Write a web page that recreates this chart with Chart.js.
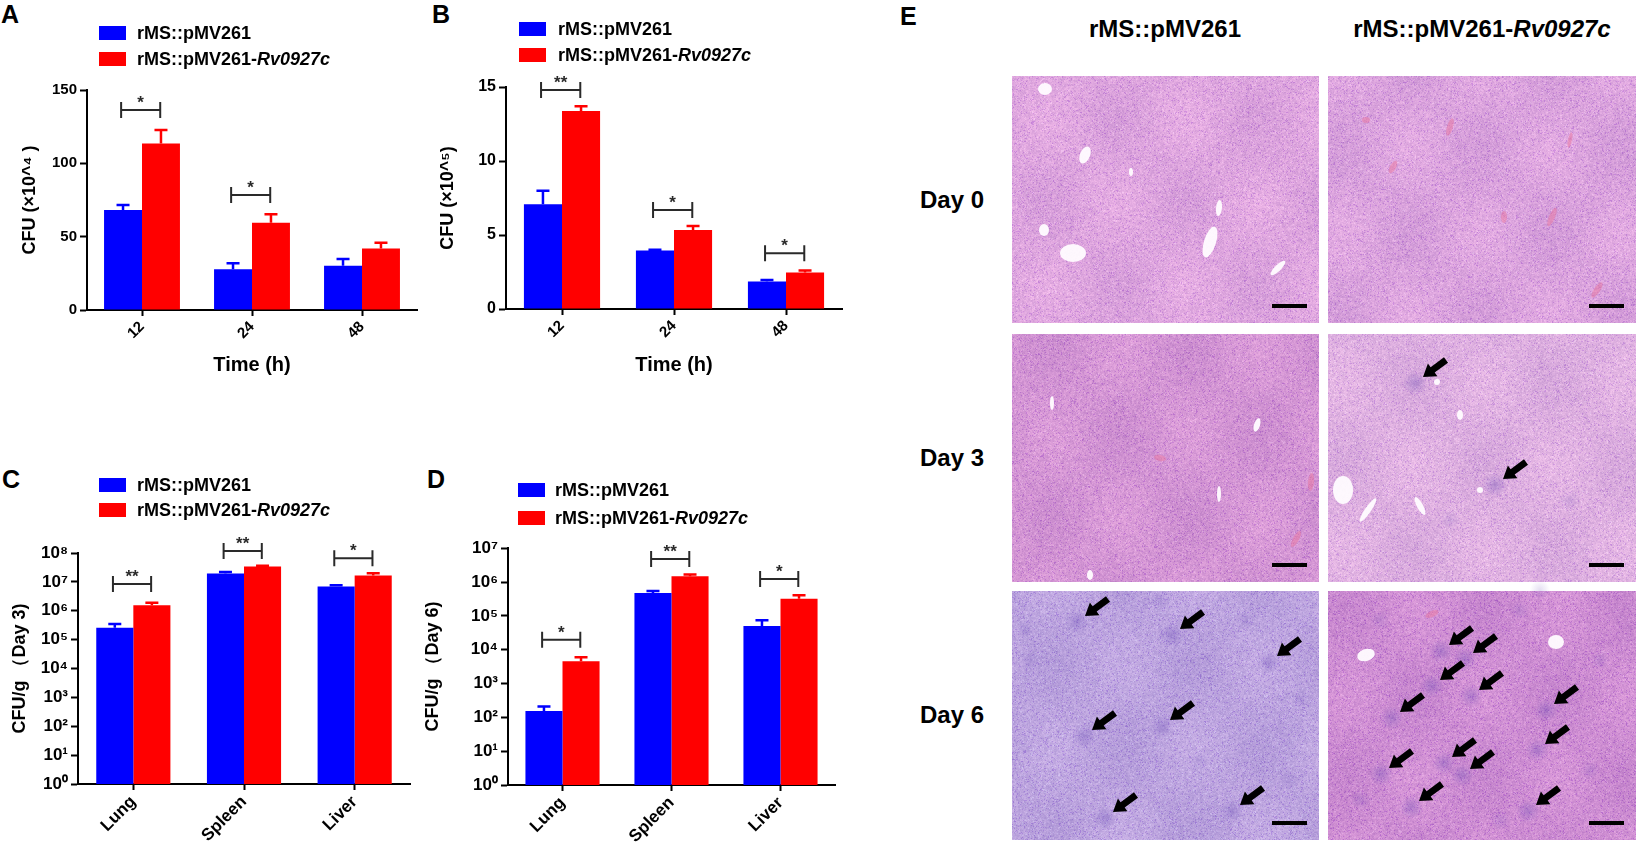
<!DOCTYPE html>
<html lang="en">
<head>
<meta charset="UTF-8">
<title>rMS::pMV261 vs rMS::pMV261-Rv0927c</title>
<script src="https://cdn.jsdelivr.net/npm/chart.js"></script>
<style>
  body { margin: 0; background: #fff; }
  #page { position: relative; width: 1636px; height: 845px; overflow: hidden; background: #fff;
          font-family: "Liberation Sans", Arial, sans-serif; font-weight: bold; color: #000; }
  #page canvas, .t, .box { position: absolute; }
  .t { line-height: 1; white-space: nowrap; }
  .letter { font-size: 25px; }
  .leg { font-size: 18px; }
  .head { font-size: 24px; text-align: center; width: 320px; }
  .day { font-size: 24px; }
  .box { width: 27px; height: 14px; }
</style>
</head>
<body>
<div id="page">
  <canvas id="chartA" width="430" height="330" style="left:0px;top:70px"></canvas>
  <canvas id="chartB" width="450" height="340" style="left:420px;top:60px"></canvas>
  <canvas id="chartC" width="430" height="325" style="left:0px;top:520px"></canvas>
  <canvas id="chartD" width="430" height="310" style="left:420px;top:535px"></canvas>
  <canvas id="histo" width="624" height="764" style="left:1012px;top:76px"></canvas>

  <div class="t letter" style="left:1px;top:2px">A</div>
  <div class="t letter" style="left:432px;top:2px">B</div>
  <div class="t letter" style="left:2px;top:467px">C</div>
  <div class="t letter" style="left:427px;top:467px">D</div>
  <div class="t letter" style="left:900px;top:4px">E</div>

  <div class="t head" style="left:1005px;top:17px">rMS::pMV261</div>
  <div class="t head" style="left:1322px;top:17px">rMS::pMV261-<i>Rv0927c</i></div>
  <div class="t day" style="left:920px;top:188px">Day 0</div>
  <div class="t day" style="left:920px;top:446px">Day 3</div>
  <div class="t day" style="left:920px;top:703px">Day 6</div>
</div>

<script>
// ---- data ----
const seriesNames = ['rMS::pMV261', 'rMS::pMV261-Rv0927c'];
const timeLabels = ['12', '24', '48'];
const organLabels = ['Lung', 'Spleen', 'Liver'];

// A: in vitro CFU (x10^4)
const aCtrl = [68.2, 27.7, 30.2];
const aCtrlSem = [3.4, 4.1, 4.6];
const aRv = [113.6, 59.5, 42.0];
const aRvSem = [9.1, 5.7, 3.9];
const aSig = ['*', '*', ''];
const aSigY = [136.4, 78.4, null];
const aTicks = [0, 50, 100, 150];

// B: CFU (x10^5)
const bCtrl = [7.07, 3.95, 1.86];
const bCtrlSem = [0.92, 0.06, 0.1];
const bRv = [13.38, 5.34, 2.47];
const bRvSem = [0.32, 0.27, 0.13];
const bSig = ['**', '*', '*'];
const bSigY = [14.8, 6.69, 3.77];
const bTicks = [0, 5, 10, 15];

// C: CFU/g day 3
const cCtrl = [2.6e5, 1.94e7, 6.9e6];
const cCtrlSem = [0.9e5, 0.26e7, 0.8e6];
const cRv = [1.56e6, 3.4e7, 1.65e7];
const cRvSem = [0.34e6, 0.2e7, 0.35e7];
const cSig = ['**', '**', '*'];
const cSigY = [8.5e6, 1.17e8, 6.6e7];
const cTicks = [1, 1e1, 1e2, 1e3, 1e4, 1e5, 1e6, 1e7, 1e8];

// D: CFU/g day 6
const dCtrl = [155, 4.7e5, 5.0e4];
const dCtrlSem = [53, 0.7e5, 2.4e4];
const dRv = [4570, 1.49e6, 3.2e5];
const dRvSem = [1430, 0.17e6, 0.9e5];
const dSig = ['*', '**', '*'];
const dSigY = [1.95e4, 4.8e6, 1.23e6];
const dTicks = [1, 1e1, 1e2, 1e3, 1e4, 1e5, 1e6, 1e7];

const BLUE = '#0000ff';
const RED = '#ff0000';
const FONT = '"Liberation Sans", Arial, sans-serif';

Chart.defaults.font.family = FONT;
Chart.defaults.font.weight = 'bold';
Chart.defaults.color = '#000';

const sup = ['\u2070', '\u00b9', '\u00b2', '\u00b3', '\u2074', '\u2075', '\u2076', '\u2077', '\u2078', '\u2079'];

// error bars (upper only) + significance brackets
const extras = {
  id: 'extras',
  afterDatasetsDraw(chart, args, opts) {
    const ctx = chart.ctx, xs = chart.scales.x, ys = chart.scales.y;
    ctx.save();
    chart.data.datasets.forEach((ds, i) => {
      chart.getDatasetMeta(i).data.forEach((bar, j) => {
        const top = ys.getPixelForValue(ds.data[j] + opts.sem[i][j]);
        ctx.strokeStyle = ds.backgroundColor;
        ctx.lineWidth = 2.5;
        ctx.beginPath();
        ctx.moveTo(bar.x, bar.y);
        ctx.lineTo(bar.x, top);
        ctx.moveTo(bar.x - 6.5, top);
        ctx.lineTo(bar.x + 6.5, top);
        ctx.stroke();
      });
    });
    const w = chart.getDatasetMeta(0).data[0].width;
    opts.sig.forEach((s, j) => {
      if (!s) return;
      const cx = xs.getPixelForValue(j);
      const yy = ys.getPixelForValue(opts.sigY[j]);
      const l = cx - 0.55 * w, r = cx + 0.48 * w;
      ctx.strokeStyle = '#2a2a2a';
      ctx.lineWidth = 2;
      ctx.beginPath();
      ctx.moveTo(l, yy); ctx.lineTo(r, yy);
      ctx.moveTo(l, yy - 8); ctx.lineTo(l, yy + 8);
      ctx.moveTo(r, yy - 8); ctx.lineTo(r, yy + 8);
      ctx.stroke();
      ctx.fillStyle = '#2a2a2a';
      ctx.font = 'bold 17px ' + FONT;
      ctx.textAlign = 'center';
      ctx.textBaseline = 'alphabetic';
      ctx.fillText(s, (l + r) / 2, yy - 2);
    });
    ctx.restore();
  }
};

function panel(id, o) {
  const yAxis = {
    grid: { drawOnChartArea: false, color: '#000', tickLength: 7, tickWidth: 2 },
    border: { color: '#000', width: 2 },
    ticks: { font: { size: o.yFont }, padding: 3, autoSkip: false },
    title: { display: true, text: o.yTitle, font: { size: 18 }, padding: { top: o.yTitlePad, bottom: 0 } },
    afterFit: s => { s.width = o.yW; },
    afterBuildTicks: s => { s.ticks = o.yTicks.map(v => ({ value: v })); }
  };
  yAxis.min = o.yTicks[0];
  yAxis.max = o.yTicks[o.yTicks.length - 1];
  if (o.log) {
    yAxis.type = 'logarithmic';
    yAxis.ticks.callback = v => '10' + sup[Math.round(Math.log10(v))];
  }
  return new Chart(document.getElementById(id), {
    type: 'bar',
    data: {
      labels: o.labels,
      datasets: [
        { label: seriesNames[0], data: o.ctrl, backgroundColor: BLUE, borderWidth: 0 },
        { label: seriesNames[1], data: o.rv, backgroundColor: RED, borderWidth: 0 }
      ]
    },
    options: {
      responsive: false,
      animation: false,
      layout: { padding: o.pad },
      datasets: { bar: { categoryPercentage: o.catPct, barPercentage: 1 } },
      plugins: {
        legend: { display: false },
        tooltip: { enabled: false },
        extras: { sem: [o.ctrlSem, o.rvSem], sig: o.sig, sigY: o.sigY }
      },
      scales: {
        x: {
          offset: true,
          grid: { offset: false, drawOnChartArea: false, color: '#000', tickLength: 6, tickWidth: 2 },
          border: { color: '#000', width: 2 },
          ticks: { font: { size: o.xFont }, minRotation: 45, maxRotation: 45, padding: 2, autoSkip: false },
          title: o.xTitle
            ? { display: true, text: o.xTitle, font: { size: 20 }, padding: { top: 0, bottom: 23 } }
            : { display: false },
          afterFit: s => { s.height = o.xH; }
        },
        y: yAxis
      }
    },
    plugins: [extras]
  });
}

panel('chartA', {
  labels: timeLabels, ctrl: aCtrl, ctrlSem: aCtrlSem, rv: aRv, rvSem: aRvSem, sig: aSig, sigY: aSigY,
  yTicks: aTicks, yTitle: 'CFU (\u00d710^\u2074 )', yTitlePad: 19, yW: 87, yFont: 15,
  xTitle: 'Time (h)', xH: 90, xFont: 15, catPct: 0.69,
  pad: { top: 20, right: 13, bottom: 0, left: 0 }
});
panel('chartB', {
  labels: timeLabels, ctrl: bCtrl, ctrlSem: bCtrlSem, rv: bRv, rvSem: bRvSem, sig: bSig, sigY: bSigY,
  yTicks: bTicks, yTitle: 'CFU (\u00d710^\u2075)', yTitlePad: 17, yW: 86, yFont: 16,
  xTitle: 'Time (h)', xH: 91, xFont: 15, catPct: 0.68,
  pad: { top: 27, right: 28, bottom: 0, left: 0 }
});
panel('chartC', {
  labels: organLabels, ctrl: cCtrl, ctrlSem: cCtrlSem, rv: cRv, rvSem: cRvSem, sig: cSig, sigY: cSigY,
  yTicks: cTicks, log: true, yTitle: 'CFU/g \uff08Day 3)', yTitlePad: 9, yW: 78, yFont: 17,
  xTitle: null, xH: 61, xFont: 17, catPct: 0.67,
  pad: { top: 33, right: 20, bottom: 0, left: 0 }
});
panel('chartD', {
  labels: organLabels, ctrl: dCtrl, ctrlSem: dCtrlSem, rv: dRv, rvSem: dRvSem, sig: dSig, sigY: dSigY,
  yTicks: dTicks, log: true, yTitle: 'CFU/g \uff08Day 6)', yTitlePad: 2, yW: 88, yFont: 17,
  xTitle: null, xH: 60, xFont: 17, catPct: 0.68,
  pad: { top: 13, right: 15, bottom: 0, left: 0 }
});

// legends (HTML so the gene name can be italic)
const legendSpots = [[99, 137, 33, 58.5], [519, 558, 29, 55], [99, 137, 484.5, 510], [518, 555, 490, 517.5]];
const page = document.getElementById('page');
legendSpots.forEach(([bx, tx, y1, y2]) => {
  [[y1, BLUE, seriesNames[0]], [y2, RED, seriesNames[1]]].forEach(([cy, col, name]) => {
    const b = document.createElement('div');
    b.className = 'box';
    b.style.cssText = 'left:' + bx + 'px;top:' + (cy - 7) + 'px;background:' + col;
    page.appendChild(b);
    const t = document.createElement('div');
    t.className = 't leg';
    t.style.cssText = 'left:' + tx + 'px;top:' + (cy - 9) + 'px';
    const k = name.indexOf('-');
    t.innerHTML = k < 0 ? name : name.slice(0, k + 1) + '<i>' + name.slice(k + 1) + '</i>';
    page.appendChild(t);
  });
});

// ---- panel E: liver sections (drawn as textured images) ----
const hc = document.getElementById('histo');
const hx = hc.getContext('2d');
const OX = 1012, OY = 76;
const colX = [1012, 1328], colW = [307, 308];
const rowY = [76, 334, 591], rowH = [247, 248, 249];
const tissue = [
  [[222, 166, 222], [219, 164, 221]],
  [[212, 150, 212], [222, 176, 224]],
  [[188, 164, 222], [206, 142, 210]]
];

function hash(x, y, s) {
  let h = (x * 374761393 + y * 668265263 + s * 982451653) | 0;
  h = Math.imul(h ^ (h >>> 13), 1274126177);
  return ((h ^ (h >>> 16)) >>> 0) / 4294967296;
}

const img = hx.createImageData(hc.width, hc.height);
for (let r = 0; r < 3; r++) {
  for (let c = 0; c < 2; c++) {
    const base = tissue[r][c];
    const x0 = colX[c] - OX, y0 = rowY[r] - OY;
    for (let y = 0; y < rowH[r]; y++) {
      for (let x = 0; x < colW[c]; x++) {
        const n = hash(x, y, r * 2 + c + 1);
        const g = hash(x >> 1, y >> 1, 9 + r * 2 + c);
        const m = Math.sin(x * 0.045 + r * 3 + c) * Math.sin(y * 0.037 + c * 2 + r);
        let k = (n - 0.5) * 18 + (g - 0.5) * 18 + m * 7;
        let R = base[0] + k, G = base[1] + k, B = base[2] + k * 0.6;
        if (n > 0.92) { R -= 30; G -= 40; B -= 10; }
        else if (n < 0.05) { R += 18; G += 26; B += 16; }
        const p = ((y0 + y) * hc.width + (x0 + x)) * 4;
        img.data[p] = R; img.data[p + 1] = G; img.data[p + 2] = B; img.data[p + 3] = 255;
      }
    }
  }
}
hx.putImageData(img, 0, 0);

function blob(x, y, rx, ry, rot, col) {
  hx.save();
  hx.translate(x - OX, y - OY);
  hx.rotate(rot);
  hx.beginPath();
  hx.ellipse(0, 0, rx, ry, 0, 0, Math.PI * 2);
  hx.fillStyle = col;
  hx.fill();
  hx.restore();
}

function softSpot(x, y, rad, alpha) {
  const gx = x - OX, gy = y - OY;
  const g = hx.createRadialGradient(gx, gy, 0, gx, gy, rad);
  g.addColorStop(0, 'rgba(105,75,180,' + alpha + ')');
  g.addColorStop(1, 'rgba(105,75,180,0)');
  hx.fillStyle = g;
  hx.fillRect(gx - rad, gy - rad, rad * 2, rad * 2);
}

// vessels
const whiteSpots = [
  [1045, 89, 7, 6, 0], [1085, 155, 5, 9, 0.4], [1044, 230, 5, 6, 0], [1073, 253, 13, 9, 0],
  [1210, 242, 6, 16, 0.3], [1278, 268, 3, 10, 0.8], [1219, 208, 3, 8, 0.1], [1131, 172, 2, 4, 0],
  [1052, 403, 2, 7, 0], [1257, 425, 3, 7, 0.3], [1219, 494, 2, 8, 0], [1090, 575, 3, 5, 0],
  [1343, 490, 10, 14, 0], [1368, 510, 3, 14, 0.6], [1420, 506, 3, 10, -0.5], [1437, 382, 3, 3, 0],
  [1366, 655, 9, 6, -0.3], [1556, 642, 8, 7, 0], [1480, 490, 3, 3, 0], [1460, 415, 3, 5, 0]
];
whiteSpots.forEach(v => blob(v[0], v[1], v[2], v[3], v[4], 'rgba(255,252,255,0.95)'));
const redSpots = [
  [1450, 127, 3, 9, 0.3], [1393, 167, 3, 7, 0.5], [1570, 140, 2, 8, 0.2], [1552, 217, 3, 10, 0.4],
  [1504, 217, 3, 6, 0], [1597, 290, 3, 9, 0.6], [1366, 120, 4, 3, 0], [1160, 458, 6, 3, 0.2],
  [1311, 482, 3, 9, 0.1], [1432, 614, 7, 3, -0.4], [1296, 539, 3, 9, 0.5]
];
redSpots.forEach(v => blob(v[0], v[1], v[2], v[3], v[4], 'rgba(232,118,158,0.5)'));

// lesions and arrows (tip positions)
const arrowTips = [
  [1423, 377], [1503, 479],
  [1085, 616], [1180, 629], [1277, 656], [1092, 730], [1170, 720], [1113, 812], [1240, 805],
  [1449, 645], [1473, 653], [1440, 680], [1479, 690], [1400, 712], [1554, 704],
  [1545, 744], [1452, 757], [1389, 768], [1470, 769], [1419, 801], [1536, 805]
];
arrowTips.forEach(([x, y]) => softSpot(x - 8, y + 6, 12, 0.35));
// unmarked faint foci
[[1025, 630], [1030, 660], [1160, 600], [1245, 620], [1290, 780], [1300, 700], [1200, 760],
 [1380, 620], [1520, 610], [1600, 660], [1500, 820], [1360, 800], [1590, 770], [1540, 590],
 [1570, 500], [1450, 520]].forEach(([x, y]) => softSpot(x, y, 10, 0.18));

function arrow(tx, ty) {
  const dx = 23, dy = -17, len = Math.hypot(dx, dy);
  const ux = dx / len, uy = dy / len, px = -uy, py = ux;
  const hl = 12, hw = 8, sw = 3.4;
  const x = tx - OX, y = ty - OY;
  const pts = [
    [x, y],
    [x + ux * hl + px * hw, y + uy * hl + py * hw],
    [x + ux * hl + px * sw, y + uy * hl + py * sw],
    [x + dx + px * sw, y + dy + py * sw],
    [x + dx - px * sw, y + dy - py * sw],
    [x + ux * hl - px * sw, y + uy * hl - py * sw],
    [x + ux * hl - px * hw, y + uy * hl - py * hw]
  ];
  hx.beginPath();
  pts.forEach((p, i) => i ? hx.lineTo(p[0], p[1]) : hx.moveTo(p[0], p[1]));
  hx.closePath();
  hx.fillStyle = '#000';
  hx.fill();
}
arrowTips.forEach(([x, y]) => arrow(x, y));

// scale bars
for (let r = 0; r < 3; r++) {
  for (let c = 0; c < 2; c++) {
    const right = colX[c] + colW[c] - OX - 12;
    const yb = rowY[r] + rowH[r] - OY - 17;
    hx.fillStyle = '#000';
    hx.fillRect(right - 35, yb - 2, 35, 4);
  }
}
</script>
</body>
</html>
